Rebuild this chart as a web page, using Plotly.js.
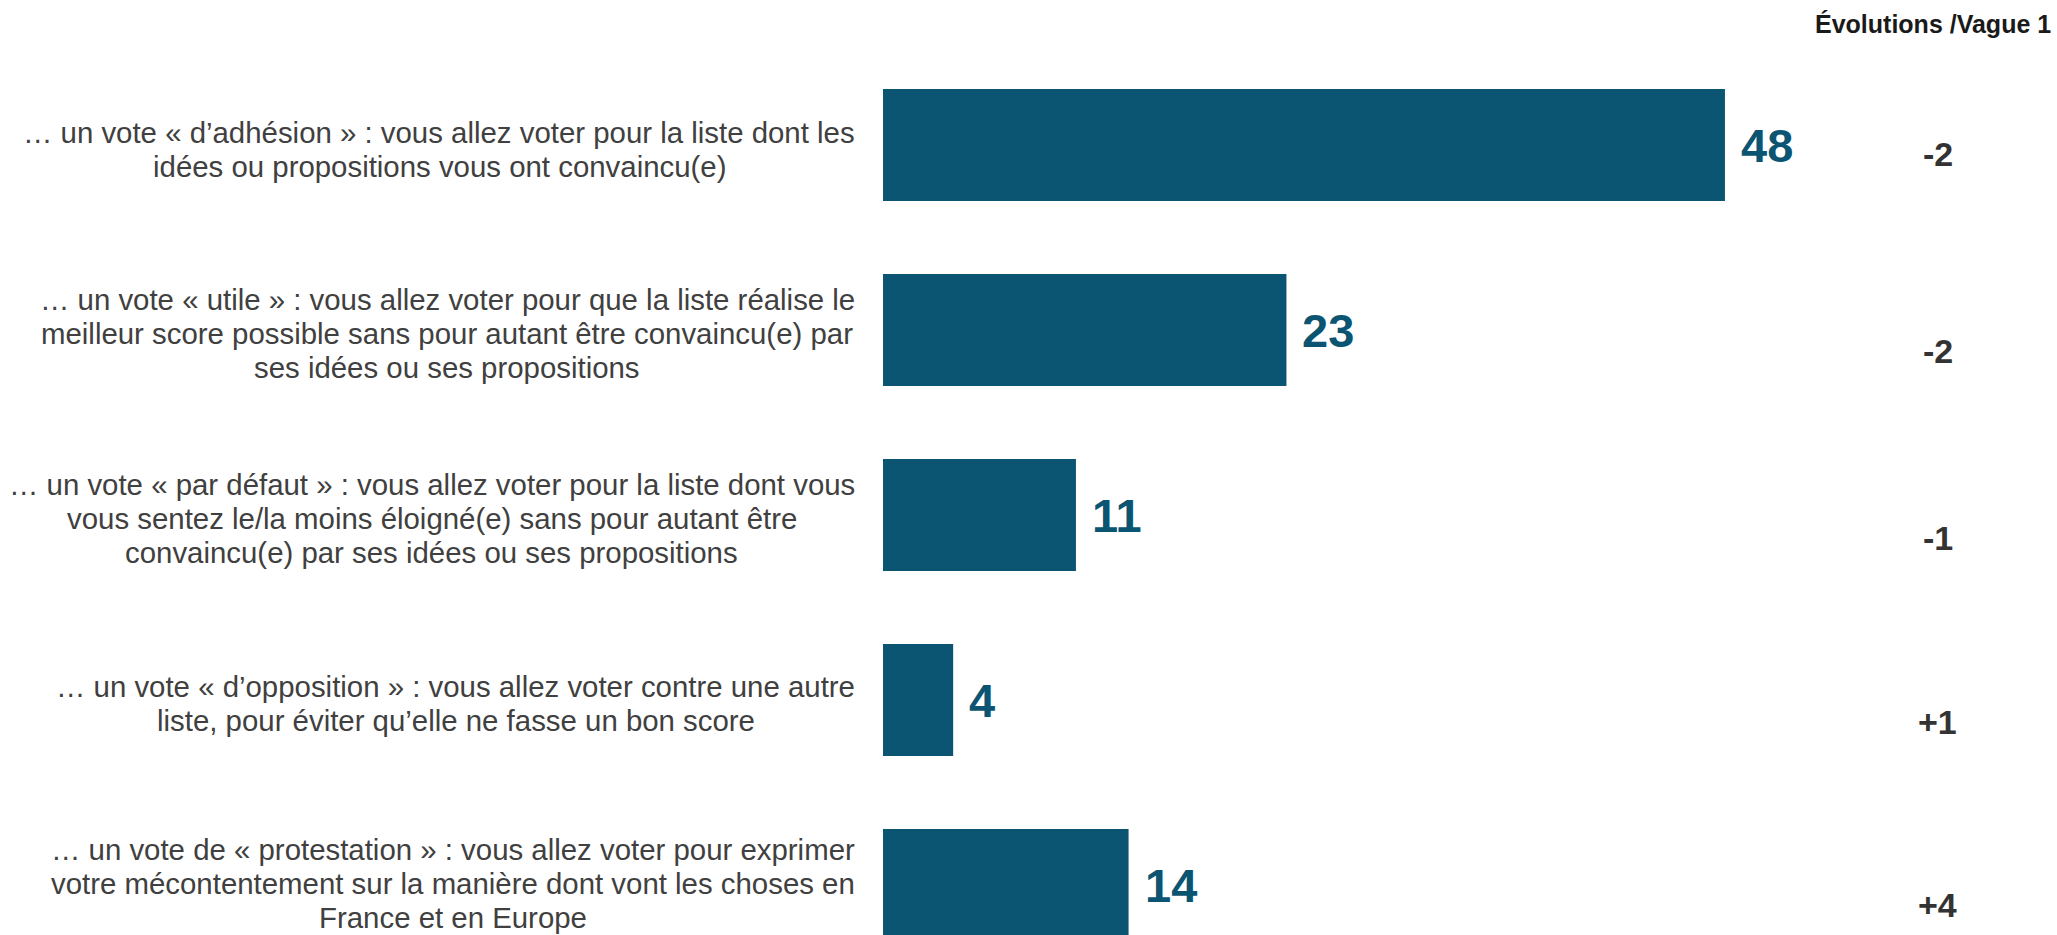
<!DOCTYPE html>
<html>
<head>
<meta charset="utf-8">
<script src="https://cdn.plot.ly/plotly-3.0.1.min.js"></script>
<style>html,body{margin:0;padding:0;background:#fff;}#chart{width:2057px;height:935px;}</style>
</head>
<body>
<div id="chart"></div>
<script>
const categories = [
  "… un vote « d’adhésion » : vous allez voter pour la liste dont les<br>idées ou propositions vous ont convaincu(e)",
  "… un vote « utile » : vous allez voter pour que la liste réalise le<br>meilleur score possible sans pour autant être convaincu(e) par<br>ses idées ou ses propositions",
  "… un vote « par défaut » : vous allez voter pour la liste dont vous<br>vous sentez le/la moins éloigné(e) sans pour autant être<br>convaincu(e) par ses idées ou ses propositions",
  "… un vote « d’opposition » : vous allez voter contre une autre<br>liste, pour éviter qu’elle ne fasse un bon score",
  "… un vote de « protestation » : vous allez voter pour exprimer<br>votre mécontentement sur la manière dont vont les choses en<br>France et en Europe"
];
const values = [48, 23, 11, 4, 14];
const evolutions = ["-2", "-2", "-1", "+1", "+4"];
const evolHeader = "Évolutions /Vague 1";

const barColor = "#0B5572";
const FONT = "Liberation Sans, Arial, sans-serif";
const labelSize = 29.4;
const lineGap = 34;
const labelRight = 28;
const idx = categories.map((_, i) => i);
const evolShift = [-9, -21, -23, -22, -20];
const labelShift = [-4, -3, -3, -3, 2];

const ctx = document.createElement("canvas").getContext("2d");
ctx.font = labelSize + "px 'Liberation Sans', Arial, sans-serif";

const annotations = [];
categories.forEach((c, i) => {
  const lines = c.split("<br>");
  const maxW = Math.max(...lines.map(l => ctx.measureText(l).width));
  const n = lines.length;
  lines.forEach((ln, j) => {
    annotations.push({
      xref: "paper", yref: "y", x: 0, y: i, xanchor: "center", yanchor: "middle",
      xshift: -(labelRight + maxW / 2), yshift: labelShift[i] + ((n - 1) / 2 - j) * lineGap,
      showarrow: false, text: ln,
      font: {family: FONT, size: labelSize, color: "#404040"}
    });
  });
  annotations.push({
    xref: "x", yref: "y", x: values[i], y: i, xanchor: "left", yanchor: "middle",
    xshift: 14, showarrow: false, text: "<b>" + values[i] + "</b>",
    font: {family: FONT, size: 47, color: barColor}
  });
  annotations.push({
    xref: "paper", yref: "y", x: 0.8986, y: i, xanchor: "center", yanchor: "middle",
    yshift: evolShift[i], showarrow: false, text: "<b>" + evolutions[i] + "</b>",
    font: {family: FONT, size: 34, color: "#333333"}
  });
});
annotations.push({
  xref: "paper", yref: "paper", x: 1, y: 1, xanchor: "right", yanchor: "top",
  xshift: -4, yshift: -8, showarrow: false, text: "<b>" + evolHeader + "</b>",
  font: {family: FONT, size: 25, color: "#1a1a1a"}
});

const trace = {
  type: "bar", orientation: "h", x: values, y: idx,
  marker: {color: barColor}, width: 0.605, hoverinfo: "none"
};

const layout = {
  width: 2057, height: 935,
  margin: {l: 883, r: 0, t: 0, b: 0},
  paper_bgcolor: "#fff", plot_bgcolor: "#fff",
  showlegend: false,
  xaxis: {range: [0, 66.93], visible: false, fixedrange: true},
  yaxis: {range: [4.27, -0.784], visible: false, fixedrange: true},
  annotations: annotations
};

Plotly.newPlot("chart", [trace], layout, {displayModeBar: false, staticPlot: true});
</script>
</body>
</html>
